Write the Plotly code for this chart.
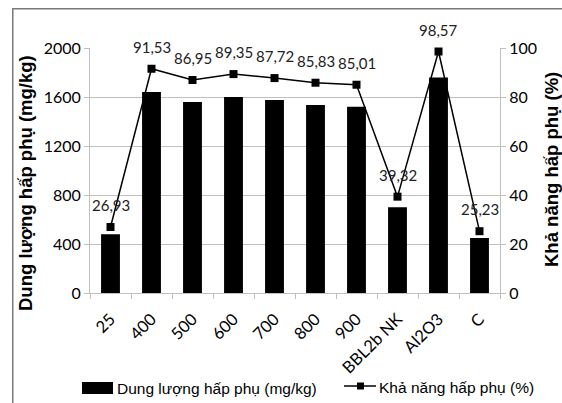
import plotly.graph_objects as go

# Sample labels (temperature / material)
categories = ["25", "400", "500", "600", "700", "800", "900", "BBL2b NK", "Al2O3", "C"]
# Adsorption capacity, mg/kg (bars, left axis)
capacity = [480, 1640, 1560, 1600, 1575, 1535, 1520, 700, 1760, 450]
# Adsorption efficiency, % (line, right axis)
efficiency = [26.93, 91.53, 86.95, 89.35, 87.72, 85.83, 85.01, 39.32, 98.57, 25.23]
efficiency_labels = [f"{v:.2f}".replace(".", ",") for v in efficiency]

bar_name = "Dung lượng hấp phụ (mg/kg)"
line_name = "Khả năng hấp phụ (%)"

W, H = 562, 403
L, R, T, B = 90, 62, 48, 110
PW, PH = W - L - R, H - T - B


def px(x):
    return (x - L) / PW


def py(y):
    return (H - B - y) / PH


TICKF = "Lato, Liberation Sans, sans-serif"
TEXTF = "Liberation Sans, Arial, sans-serif"
GRID = "#c0c0c0"
FRAME = "#7a7a7a"

fig = go.Figure()
fig.add_trace(go.Bar(
    x=categories, y=capacity, name=bar_name,
    marker=dict(color="black", line=dict(width=0)), width=0.46,
))
fig.add_trace(go.Scatter(
    x=categories, y=efficiency, name=line_name, yaxis="y2",
    mode="lines+markers",
    line=dict(color="black", width=1.5),
    marker=dict(symbol="square", size=8, color="black"),
    cliponaxis=False,
))

# value labels above each efficiency point (x given as category index)
annotations = [
    dict(x=i, y=v, xref="x", yref="y2", text=t, showarrow=False, yshift=22,
         yanchor="middle", font=dict(family=TICKF, size=15, color="#222"))
    for i, (v, t) in enumerate(zip(efficiency, efficiency_labels))
]

# axis titles
annotations += [
    dict(x=px(25), y=py(183), xref="paper", yref="paper", text="<b>Dung lượng hấp phụ (mg/kg)</b>",
         textangle=-90, showarrow=False, xanchor="center", yanchor="middle",
         font=dict(family=TEXTF, size=18.5, color="black")),
    dict(x=px(551), y=py(170), xref="paper", yref="paper", text="<b>Khả năng hấp phụ (%)</b>",
         textangle=-90, showarrow=False, xanchor="center", yanchor="middle",
         font=dict(family=TEXTF, size=18.5, color="black")),
]

# legend entries
annotations += [
    dict(x=px(115), y=py(388), xref="paper", yref="paper", text=bar_name, showarrow=False,
         xanchor="left", yanchor="middle", font=dict(family=TEXTF, size=15.5, color="black")),
    dict(x=px(377), y=py(387), xref="paper", yref="paper", text=line_name, showarrow=False,
         xanchor="left", yanchor="middle", font=dict(family=TEXTF, size=15.5, color="black")),
]

shapes = [
    # chart frame (top and left edges; the rest runs past the page)
    dict(type="rect", xref="paper", yref="paper",
         x0=px(12), x1=px(13.5), y0=py(403), y1=py(8),
         line=dict(width=0), fillcolor=FRAME, layer="above"),
    dict(type="rect", xref="paper", yref="paper",
         x0=px(12), x1=px(562), y0=py(9.5), y1=py(8),
         line=dict(width=0), fillcolor=FRAME, layer="above"),
    # legend keys
    dict(type="rect", xref="paper", yref="paper",
         x0=px(82), x1=px(113), y0=py(394), y1=py(382),
         line=dict(width=0), fillcolor="black", layer="above"),
    dict(type="line", xref="paper", yref="paper",
         x0=px(344), x1=px(376), y0=py(386), y1=py(386),
         line=dict(color="black", width=1.5), layer="above"),
    dict(type="rect", xref="paper", yref="paper",
         x0=px(357), x1=px(364), y0=py(389.5), y1=py(382.5),
         line=dict(width=0), fillcolor="black", layer="above"),
]

fig.update_layout(
    width=W, height=H,
    margin=dict(l=L, r=R, t=T, b=B),
    paper_bgcolor="white", plot_bgcolor="white",
    showlegend=False,
    annotations=annotations, shapes=shapes,
    xaxis=dict(
        type="category", categoryorder="array", categoryarray=categories,
        range=[-0.5, len(categories) - 0.5],
        tickangle=-45, tickfont=dict(family=TICKF, size=16.5, color="black"),
        ticklabelstandoff=9,
        showline=True, linecolor=GRID, ticks="outside", tickcolor=GRID, ticklen=5,
        tickson="boundaries", showgrid=False, automargin=False,
    ),
    yaxis=dict(
        range=[0, 2000], dtick=400, showgrid=True, gridcolor=GRID,
        showline=True, linecolor=GRID, ticks="outside", tickcolor=GRID, ticklen=5,
        tickfont=dict(family=TICKF, size=16, color="black"), zeroline=False, automargin=False,
    ),
    yaxis2=dict(
        range=[0, 100], dtick=20, overlaying="y", side="right", showgrid=False,
        showline=True, linecolor=GRID, ticks="outside", tickcolor=GRID, ticklen=5,
        tickfont=dict(family=TICKF, size=16, color="black"), zeroline=False, automargin=False,
    ),
)

fig.write_html("out.html")
